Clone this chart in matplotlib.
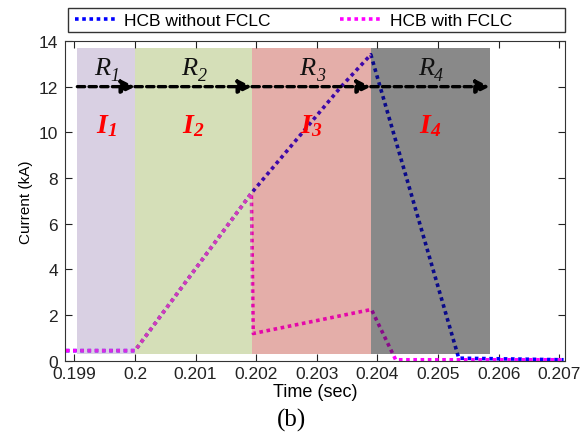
import matplotlib
matplotlib.use("Agg")
import matplotlib.pyplot as plt
from matplotlib.patches import Rectangle

plt.rcParams['font.family'] = ['Liberation Sans', 'DejaVu Sans']
# 公式字体用 Times 风格（Liberation Serif）
plt.rcParams['mathtext.fontset'] = 'custom'
plt.rcParams['mathtext.rm'] = 'Liberation Serif'
plt.rcParams['mathtext.it'] = 'Liberation Serif:italic'
plt.rcParams['mathtext.bf'] = 'Liberation Serif:bold'
plt.rcParams['mathtext.bfit'] = 'Liberation Serif:italic:bold'

# 数据
t_blue = [0.19886, 0.2000, 0.20192, 0.2034, 0.20389, 0.20534, 0.20707]
i_blue = [0.45, 0.45, 7.34, 12.0, 13.4, 0.12, 0.05]
t_pink = [0.19886, 0.2000, 0.20192, 0.20195, 0.2039, 0.2043, 0.20707]
i_pink = [0.45, 0.45, 7.34, 1.2, 2.25, 0.05, 0.05]

# 区域边界与颜色（半透明覆盖在曲线上）
region_edges = [0.19905, 0.2000, 0.20193, 0.20389, 0.20585]
region_colors = ['#9279af', '#87a634', '#b2170a', '#141414']
region_alpha = [0.35, 0.35, 0.35, 0.5]
region_bottom, region_top = 0.32, 13.67
region_names = ['1', '2', '3', '4']
i_labels = [r'$\mathbfit{I}_{\mathbfit{1}}$', r'$\mathbfit{I}_{\mathbfit{2}}$',
            r'$\mathbfit{I}_{\mathbfit{3}}$', r'$\mathbfit{I}_{\mathbfit{4}}$']

xticks = [0.199, 0.2, 0.201, 0.202, 0.203, 0.204, 0.205, 0.206, 0.207]
xtick_labels = ['0.199', '0.2', '0.201', '0.202', '0.203', '0.204', '0.205', '0.206', '0.207']
yticks = [0, 2, 4, 6, 8, 10, 12, 14]

fig = plt.figure(figsize=(5.84, 4.35), dpi=100)
ax = fig.add_axes([0.1113, 0.168, 0.8562, 0.7356])

l1, = ax.plot(t_blue, i_blue, color='#0000ff', linestyle=(0, (1, 1)), linewidth=2.6, zorder=2)
l2, = ax.plot(t_pink, i_pink, color='#ff00ff', linestyle=(0, (1, 1)), linewidth=2.6, zorder=2)

serif = 'Liberation Serif'
for k in range(4):
    x0, x1 = region_edges[k], region_edges[k + 1]
    ax.add_patch(Rectangle((x0, region_bottom), x1 - x0, region_top - region_bottom,
                           facecolor=region_colors[k], edgecolor='none',
                           alpha=region_alpha[k], zorder=3))
    xm = (x0 + x1) / 2
    # R 和斜体下标分开写
    ax.annotate('R', xy=(xm, 12.8), xytext=(-3, 0), textcoords='offset points',
                ha='center', va='center', fontsize=19, family=serif, style='italic',
                color='#111111', zorder=5)
    ax.annotate(region_names[k], xy=(xm, 12.8), xytext=(3, -5), textcoords='offset points',
                ha='left', va='center', fontsize=13, family=serif, style='italic',
                color='#111111', zorder=5)
    ax.text(xm, 10.3, i_labels[k], ha='center', va='center', fontsize=20, color='#ff0000', zorder=5)
    ax.annotate('', xy=(x1, 12), xytext=(x0, 12),
                arrowprops=dict(arrowstyle='-|>', linestyle=(0, (2.2, 1.3)), color='black', lw=2.4,
                                mutation_scale=20, shrinkA=0, shrinkB=0), zorder=4)

ax.set_xlim(0.198846, 0.207093)
ax.set_ylim(0, 14)
ax.set_xticks(xticks)
ax.set_xticklabels(xtick_labels)
ax.set_yticks(yticks)
ax.tick_params(direction='in', top=True, right=True, labelsize=12.5, length=5, colors='#222222')
ax.tick_params(axis='y', pad=5)
ax.tick_params(axis='x', pad=4)
ax.set_xlabel('Time (sec)', fontsize=13, labelpad=1)
ax.set_ylabel('Current (kA)', fontsize=11, labelpad=4)
for s in ax.spines.values():
    s.set_color('#333333')

# 图例外框
fig.add_artist(Rectangle((0.1164, 0.924), 0.8511, 0.055, transform=fig.transFigure,
                         facecolor='white', edgecolor='#333333', linewidth=1.0))
fig.legend([l1, l2], ['HCB without FCLC', 'HCB with FCLC'], loc='center left',
           bbox_to_anchor=(0.128, 0.9515), ncol=2, fontsize=12.5, frameon=False,
           handlelength=2.4, handletextpad=0.45, columnspacing=4.0, borderpad=0,
           borderaxespad=0)

fig.text(0.5, 0.02, '(b)', ha='center', fontsize=18, family='Liberation Serif')

fig.savefig('out.png', dpi=100)
